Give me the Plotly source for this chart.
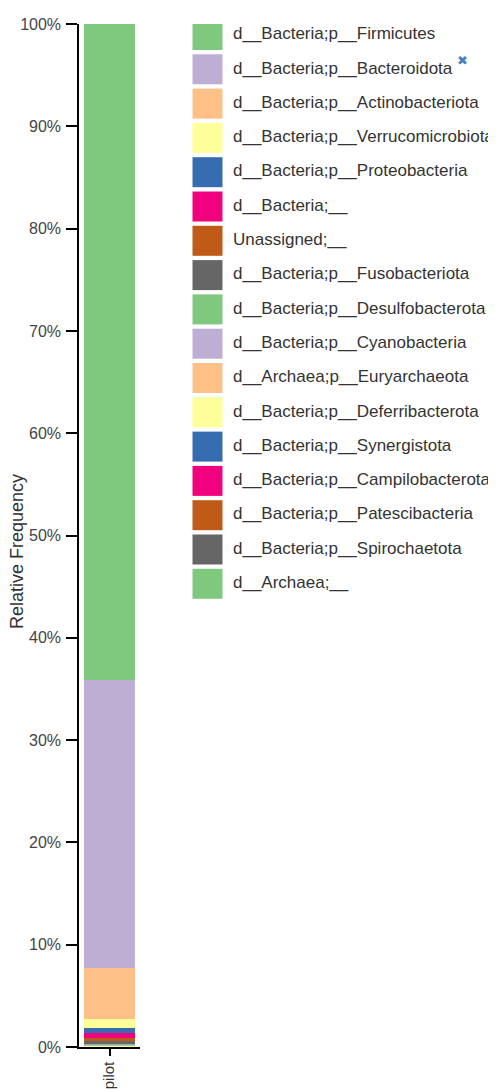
import plotly.graph_objects as go

# ---------------- data ----------------
samples = ["pilot"]

taxa = [
    "d__Bacteria;p__Firmicutes",
    "d__Bacteria;p__Bacteroidota",
    "d__Bacteria;p__Actinobacteriota",
    "d__Bacteria;p__Verrucomicrobiota",
    "d__Bacteria;p__Proteobacteria",
    "d__Bacteria;__",
    "Unassigned;__",
    "d__Bacteria;p__Fusobacteriota",
    "d__Bacteria;p__Desulfobacterota",
    "d__Bacteria;p__Cyanobacteria",
    "d__Archaea;p__Euryarchaeota",
    "d__Bacteria;p__Deferribacterota",
    "d__Bacteria;p__Synergistota",
    "d__Bacteria;p__Campilobacterota",
    "d__Bacteria;p__Patescibacteria",
    "d__Bacteria;p__Spirochaetota",
    "d__Archaea;__",
]

# relative frequency (%) in sample "pilot"
freq = [64.16, 28.1, 5.0, 0.85, 0.55, 0.5, 0.3, 0.18, 0.12, 0.08,
        0.05, 0.04, 0.03, 0.02, 0.01, 0.005, 0.005]

y_ticks = [0, 10, 20, 30, 40, 50, 60, 70, 80, 90, 100]
y_tick_labels = [f"{v}%" for v in y_ticks]

palette = ["#7fc97f", "#beaed4", "#fdc086", "#ffff99",
           "#386cb0", "#f0027f", "#bf5b17", "#666666"]
colors = [palette[i % len(palette)] for i in range(len(taxa))]

# ---------------- geometry (page pixels; body has an 8px margin) ----------------
OFF = 8
W, H = 496 - OFF, 1090 - OFF
PLOT_L, PLOT_T, PLOT_B = 79, 24, 1047          # page coords
ML, MT = PLOT_L - OFF, PLOT_T - OFF
MB = H - (PLOT_B - OFF)
MR = 0
PW = W - ML - MR
PH = H - MT - MB


def px(x_page):
    return (x_page - PLOT_L) / PW


def py(y_page):
    return 1 - (y_page - PLOT_T) / PH


FONT = "Liberation Sans, Arial, sans-serif"

fig = go.Figure()

# stacked bar: first legend entry sits on top, so add in reverse
for name, v, c in reversed(list(zip(taxa, freq, colors))):
    fig.add_trace(go.Bar(
        x=samples, y=[v], name=name,
        marker=dict(color=c, line=dict(width=0)),
        xaxis="x", yaxis="y", showlegend=False,
        hovertemplate=name + ": %{y:.2f}%<extra></extra>",
    ))

# custom legend (large swatches) on its own axes
n = len(taxa)
fig.add_trace(go.Scatter(
    x=[0] * n, y=taxa, mode="markers",
    marker=dict(symbol="square", size=30, color=colors, line=dict(width=0)),
    xaxis="x2", yaxis="y2", showlegend=False, hoverinfo="skip",
))
fig.add_trace(go.Scatter(
    x=[1] * n, y=taxa, mode="text", text=taxa,
    textposition="middle right",
    textfont=dict(size=17, color="#333333", family=FONT),
    xaxis="x2", yaxis="y2", showlegend=False, hoverinfo="skip",
))

bar_right = 140          # page x of the bar axis end
leg_left = 190           # page x where the legend axes start
sw_center = 207.5        # page x of swatch centre
text_start = 233         # page x where labels begin
unit = text_start - sw_center
pitch = 34.3
first_row = 35           # page y of the first legend row centre

x2_lo = -(sw_center - leg_left) / unit
x2_hi = x2_lo + (496 - leg_left) / unit

fig.update_layout(
    width=W, height=H,
    margin=dict(l=ML, r=MR, t=MT, b=MB, autoexpand=False),
    paper_bgcolor="white", plot_bgcolor="white",
    barmode="stack", bargap=0.164,
    font=dict(family=FONT, color="#333333"),
    xaxis=dict(
        domain=[0, px(bar_right)],
        type="category", range=[-0.5, 0.5],
        showline=True, linecolor="black", linewidth=1.5,
        ticks="outside", ticklen=7, tickcolor="black", tickwidth=1.5,
        tickangle=-90, tickfont=dict(size=15, color="#333333"),
        showgrid=False, zeroline=False, automargin=False, anchor="y",
    ),
    yaxis=dict(
        range=[0, 100], tickmode="array",
        tickvals=y_ticks, ticktext=y_tick_labels,
        showline=True, linecolor="black", linewidth=1.5,
        ticks="outside", ticklen=11, tickcolor="black", tickwidth=1.5,
        tickfont=dict(size=16, color="#444444"),
        ticklabelstandoff=2,
        showgrid=False, zeroline=False, automargin=False, anchor="x",
    ),
    xaxis2=dict(domain=[px(leg_left), 1], range=[x2_lo, x2_hi],
                visible=False, anchor="y2"),
    yaxis2=dict(
        domain=[0, 1], type="category", categoryarray=taxa,
        range=[(PLOT_B - first_row) / pitch, -(first_row - PLOT_T) / pitch],
        visible=False, anchor="x2",
    ),
    annotations=[
        dict(text="Relative Frequency", textangle=-90,
             xref="paper", yref="paper", x=px(17), y=py(552),
             xanchor="center", yanchor="middle", showarrow=False,
             font=dict(size=18, color="#333333", family=FONT)),
        dict(text="✖", xref="paper", yref="paper", x=px(462), y=py(61),
             xanchor="center", yanchor="middle", showarrow=False,
             font=dict(size=13, color="#4a7fc1")),
    ],
)

fig.write_html("out.html")
